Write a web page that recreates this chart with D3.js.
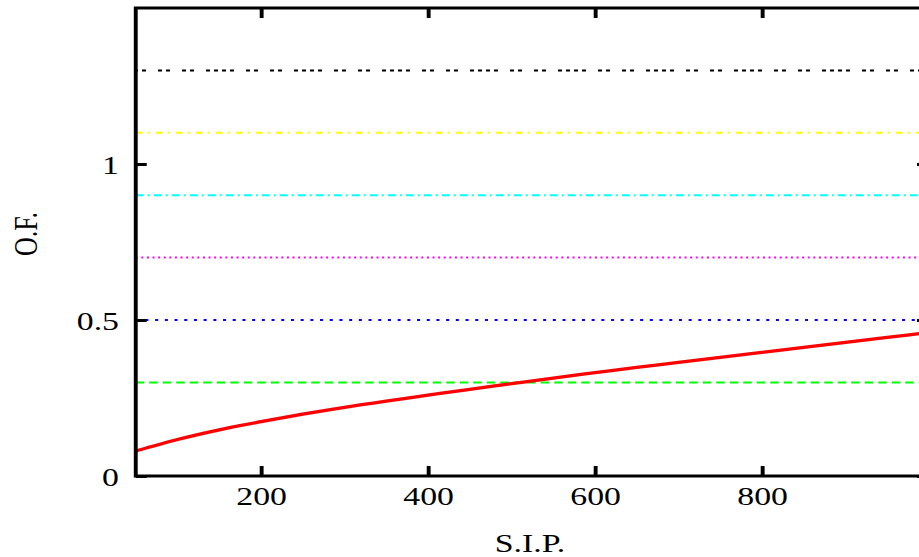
<!DOCTYPE html>
<html>
<head>
<meta charset="utf-8">
<script src="https://cdn.jsdelivr.net/npm/d3@7"></script>
<style>
  html, body { margin: 0; padding: 0; background: #fff; overflow: hidden; }
  svg { display: block; }
</style>
</head>
<body>
<div id="chart"></div>
<script>
// ---- data ----
const sip = [50, 100, 150, 200, 250, 300, 350, 400, 450, 500, 550, 600, 650, 700, 750, 800, 850, 900, 950, 1000];
const ofValues = [0.080, 0.117, 0.148, 0.174, 0.198, 0.220, 0.240, 0.259, 0.278, 0.296, 0.314, 0.331, 0.348, 0.364, 0.380, 0.396, 0.412, 0.428, 0.444, 0.460];
const levels = [0.3, 0.5, 0.7, 0.9, 1.1, 1.3];
const levelColors = ["#00ff00", "#0000ff", "#ff00ff", "#00ffff", "#ffff00", "#000000"];
const xTickValues = [200, 400, 600, 800];
const xTickLabels = ["200", "400", "600", "800"];
const yTickValues = [0, 0.5, 1];
const yTickLabels = ["0", "0.5", "1"];
const xTitle = "S.I.P.";
const yTitle = "O.F.";

// ---- layout (screen px, the picture is stretched horizontally) ----
const W = 919, H = 557, sx = 1.3;
const VW = W / sx;
const px = v => v / sx; // screen px -> internal x units

// dash patterns in screen px
const dashPx = [
  [8.5, 5],                 // green dashed
  [3, 6.7],                 // blue dotted
  [2, 3.6],                 // magenta dotted
  [8, 4, 2, 4],             // cyan dash-dot
  [7, 5, 2, 6],             // yellow dash-dot
  [4,4,4,4,4,4,4,12, 4,4,4,12, 4,4,4,12] // black
];
const dashOffPx = [0, 0, 0, 0, 0, 17.75];

const svg = d3.select("#chart").append("svg")
  .attr("width", W).attr("height", H)
  .attr("viewBox", `0 0 ${VW} ${H}`)
  .attr("preserveAspectRatio", "none");

const x = d3.scaleLinear().domain([50, 1000]).range([px(135.75), px(929)]);
const y = d3.scaleLinear().domain([0, 1.5]).range([476, 8]);

svg.append("clipPath").attr("id", "clip")
  .append("rect")
  .attr("x", x(50)).attr("y", y(1.5))
  .attr("width", x(1000) - x(50)).attr("height", y(0) - y(1.5));

const plot = svg.append("g").attr("clip-path", "url(#clip)");

// reference levels
levels.forEach((lv, i) => {
  plot.append("line")
    .attr("x1", x(50)).attr("x2", x(1000))
    .attr("y1", y(lv)).attr("y2", y(lv))
    .attr("stroke", levelColors[i])
    .attr("stroke-width", 2)
    .attr("stroke-dasharray", dashPx[i].map(px).join(","))
    .attr("stroke-dashoffset", px(dashOffPx[i]));
});

// red curve
const line = d3.line().x((d, i) => x(sip[i])).y(d => y(d)).curve(d3.curveMonotoneX);
plot.append("path")
  .datum(ofValues)
  .attr("d", line)
  .attr("fill", "none")
  .attr("stroke", "#ff0000")
  .attr("stroke-width", 3.3);

// frame
svg.append("rect")
  .attr("x", x(50)).attr("y", y(1.5))
  .attr("width", x(1000) - x(50)).attr("height", y(0) - y(1.5))
  .attr("fill", "none").attr("stroke", "#000").attr("stroke-width", 3);

// ticks via axes
const font = "'Liberation Serif', 'Times New Roman', serif";
const xb = d3.axisBottom(x).tickValues(xTickValues).tickSize(-10).tickFormat((d, i) => xTickLabels[i]);
const xt = d3.axisTop(x).tickValues(xTickValues).tickSize(-10).tickFormat("");
const yl = d3.axisLeft(y).tickValues(yTickValues).tickSize(-px(11)).tickFormat((d, i) => yTickLabels[i]);
const yr = d3.axisRight(y).tickValues(yTickValues).tickSize(-px(12)).tickFormat("");

function style(g) {
  g.select(".domain").remove();
  g.selectAll(".tick line").attr("stroke", "#000").attr("stroke-width", 3);
  g.selectAll(".tick text").attr("fill", "#000").style("font-family", font).style("font-size", "26px");
}

const gxb = svg.append("g").attr("transform", `translate(0,${y(0)})`).call(xb).call(style);
gxb.selectAll(".tick text").attr("dy", null).attr("y", 29);

svg.append("g").attr("transform", `translate(0,${y(1.5)})`).call(xt).call(style);

const gyl = svg.append("g").attr("transform", `translate(${x(50)},0)`).call(yl).call(style);
gyl.selectAll(".tick text").attr("dy", null).attr("x", px(119) - x(50)).attr("y", 9).attr("text-anchor", "end");

svg.append("g").attr("transform", `translate(${x(1000)},0)`).call(yr).call(style);

// titles
svg.append("text")
  .attr("x", px(530)).attr("y", 552)
  .attr("text-anchor", "middle")
  .style("font-family", font).style("font-size", "26px")
  .text(xTitle);

svg.append("text")
  .attr("transform", `translate(${px(37)},234) rotate(-90)`)
  .attr("text-anchor", "middle")
  .style("font-family", font).style("font-size", "26px")
  .text(yTitle);
</script>
</body>
</html>
